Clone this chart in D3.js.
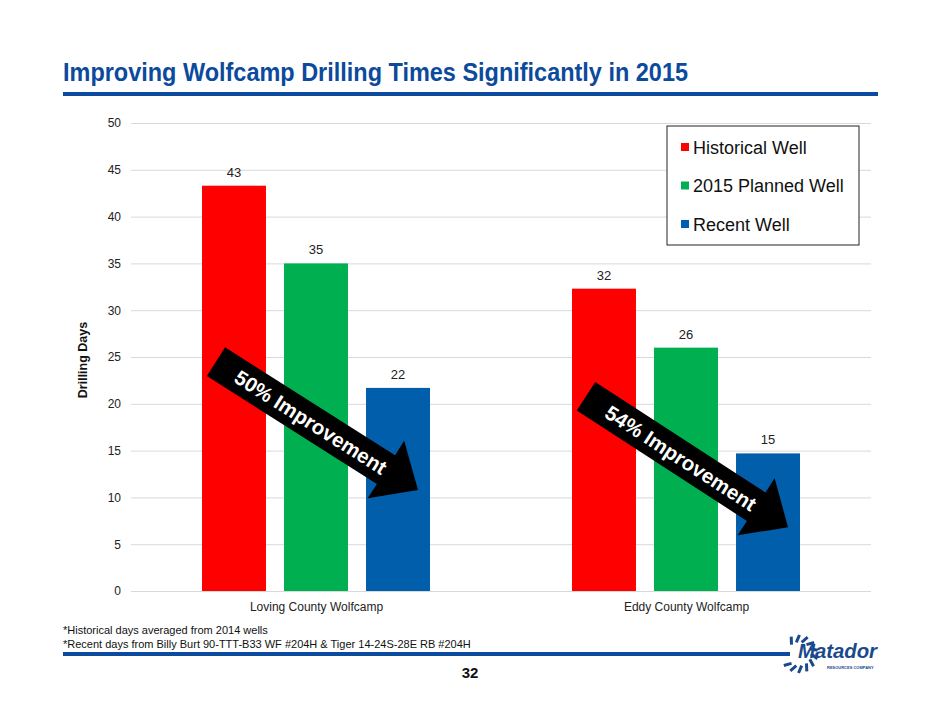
<!DOCTYPE html>
<html>
<head>
<meta charset="utf-8">
<script src="https://cdn.jsdelivr.net/npm/d3@7"></script>
<style>
  body { margin: 0; background: #fff; }
  svg { display: block; font-family: "Liberation Sans", Arial, sans-serif; }
</style>
</head>
<body>
<div id="chart"></div>
<script>
// Data
const categories = ["Loving County Wolfcamp", "Eddy County Wolfcamp"];
const seriesNames = ["Historical Well", "2015 Planned Well", "Recent Well"];
const seriesColors = ["#ff0000", "#00b050", "#005eaa"];
const historical = [43.3, 32.3];
const planned = [35.0, 26.0];
const recent = [21.7, 14.7];
const yTicks = [0, 5, 10, 15, 20, 25, 30, 35, 40, 45, 50];
const footnotes = [
  "*Historical days averaged from 2014 wells",
  "*Recent days from Billy Burt 90-TTT-B33 WF #204H & Tiger 14-24S-28E RB #204H",
];
// arrow annotations, in data units (start value near red bar, end value near blue bar)
const arrowCats = ["Loving County Wolfcamp", "Eddy County Wolfcamp"];
const arrowFrom = [24.5, 20.8];
const arrowTo = [10.8, 6.8];
const arrowText = ["50% Improvement", "54% Improvement"];

const seriesValues = [historical, planned, recent];

//Dimensions
const dimensions = { width: 940, height: 705 };
const plot = { left: 131, right: 871, top: 123, bottom: 591 };

const svg = d3
  .select("#chart")
  .append("svg")
  .attr("width", dimensions.width)
  .attr("height", dimensions.height);

// Title + rule
svg
  .append("text")
  .attr("x", 63)
  .attr("y", 81)
  .attr("font-family", "'Liberation Sans Narrow', 'Liberation Sans', Arial, sans-serif")
  .attr("font-weight", "bold")
  .attr("font-size", 25)
  .attr("fill", "#0b4a9c")
  .attr("textLength", 625)
  .attr("lengthAdjust", "spacingAndGlyphs")
  .text("Improving Wolfcamp Drilling Times Significantly in 2015");

svg
  .append("rect")
  .attr("x", 63)
  .attr("y", 92)
  .attr("width", 815)
  .attr("height", 4)
  .attr("fill", "#0b4a9c");

// Scales
const yScale = d3.scaleLinear().domain([0, 50]).range([plot.bottom, plot.top]);

const x0 = d3
  .scalePoint()
  .domain(categories)
  .range([plot.left, plot.right])
  .padding(0.5);

const groupWidth = 228;
const x1 = d3
  .scaleBand()
  .domain(seriesNames)
  .range([0, groupWidth])
  .paddingInner(0.22);

// Grid + y axis
const yAxis = d3
  .axisLeft(yScale)
  .tickValues(yTicks)
  .tickSize(-(plot.right - plot.left))
  .tickPadding(10);

const yAxisG = svg
  .append("g")
  .attr("transform", `translate(${plot.left}, 0)`)
  .call(yAxis);
yAxisG.select(".domain").remove();
yAxisG.selectAll(".tick line").attr("stroke", "#d9d9d9").attr("stroke-width", 1);
yAxisG
  .selectAll(".tick text")
  .attr("font-size", 12)
  .attr("fill", "#222")
  .attr("font-family", "'Liberation Sans', Arial, sans-serif");

svg
  .append("text")
  .attr("transform", `translate(87, ${(plot.top + plot.bottom) / 2 + 3}) rotate(-90)`)
  .attr("text-anchor", "middle")
  .attr("font-size", 12.5)
  .attr("font-weight", "bold")
  .attr("fill", "#111")
  .text("Drilling Days");

// Bars
seriesNames.forEach((name, si) => {
  const g = svg.append("g");
  const rows = categories.map((c, ci) => ({ cat: c, value: seriesValues[si][ci] }));
  g.selectAll("rect")
    .data(rows)
    .join("rect")
    .attr("x", (d) => x0(d.cat) - groupWidth / 2 + x1(name))
    .attr("y", (d) => yScale(d.value))
    .attr("width", x1.bandwidth())
    .attr("height", (d) => yScale(0) - yScale(d.value))
    .attr("fill", seriesColors[si]);

  g.selectAll("text")
    .data(rows)
    .join("text")
    .attr("x", (d) => x0(d.cat) - groupWidth / 2 + x1(name) + x1.bandwidth() / 2)
    .attr("y", (d) => yScale(d.value) - 9)
    .attr("text-anchor", "middle")
    .attr("font-size", 13)
    .attr("fill", "#222")
    .text((d) => Math.round(d.value));
});

// Category labels
const xAxis = d3.axisBottom(x0).tickSize(0).tickPadding(11);
const xAxisG = svg
  .append("g")
  .attr("transform", `translate(0, ${plot.bottom})`)
  .call(xAxis);
xAxisG.select(".domain").remove();
xAxisG
  .selectAll(".tick text")
  .attr("font-size", 12)
  .attr("fill", "#222")
  .attr("font-family", "'Liberation Sans', Arial, sans-serif");

// Arrows
const angleOf = (a, b) => Math.atan2(b[1] - a[1], b[0] - a[0]);
arrowCats.forEach((cat, i) => {
  const start = [x0(cat) - groupWidth / 2 + x1(seriesNames[0]) + 14, yScale(arrowFrom[i])];
  const end = [x0(cat) - groupWidth / 2 + x1(seriesNames[2]) + 52, yScale(arrowTo[i])];
  const len = Math.hypot(end[0] - start[0], end[1] - start[1]);
  const ang = (angleOf(start, end) * 180) / Math.PI;
  const sw = 17, hw = 34, hl = 38;
  const pts = [
    [0, -sw], [len - hl, -sw], [len - hl, -hw], [len, 0],
    [len - hl, hw], [len - hl, sw], [0, sw],
  ];
  const g = svg
    .append("g")
    .attr("transform", `translate(${start[0]}, ${start[1]}) rotate(${ang})`);
  g.append("path")
    .attr("d", d3.line()(pts) + "Z")
    .attr("fill", "#000");
  g.append("text")
    .attr("x", len * 0.47)
    .attr("y", 7.5)
    .attr("text-anchor", "middle")
    .attr("font-size", 20.5)
    .attr("font-weight", "bold")
    .attr("fill", "#fff")
    .text(arrowText[i]);
});

// Legend
const legend = svg.append("g").attr("transform", "translate(667, 126)");
legend
  .append("rect")
  .attr("width", 192)
  .attr("height", 119)
  .attr("fill", "#fff")
  .attr("stroke", "#222")
  .attr("stroke-width", 1);
seriesNames.forEach((name, i) => {
  const row = legend.append("g").attr("transform", `translate(14, ${21 + i * 38.5})`);
  row.append("rect").attr("x", 0).attr("y", -4).attr("width", 8).attr("height", 8).attr("fill", seriesColors[i]);
  row
    .append("text")
    .attr("x", 12)
    .attr("y", 6.5)
    .attr("font-size", 18)
    .attr("fill", "#111")
    .text(name);
});

// Footnotes
svg
  .selectAll(".footnote")
  .data(footnotes)
  .join("text")
  .attr("class", "footnote")
  .attr("x", 63)
  .attr("y", (d, i) => 634 + i * 14)
  .attr("font-family", "'Liberation Sans Narrow', 'Liberation Sans', Arial, sans-serif")
  .attr("font-size", 11)
  .attr("fill", "#111")
  .text((d) => d);

// Bottom rule
svg
  .append("rect")
  .attr("x", 63)
  .attr("y", 652)
  .attr("width", 727)
  .attr("height", 4)
  .attr("fill", "#0b4a9c");

// Page number
svg
  .append("text")
  .attr("x", 470)
  .attr("y", 678)
  .attr("text-anchor", "middle")
  .attr("font-size", 15)
  .attr("font-weight", "bold")
  .attr("fill", "#111")
  .text("32");

// Logo (gear ring + wordmark)
const logo = svg.append("g").attr("transform", "translate(799, 654)");
d3.range(14).forEach((k) => {
  const a = (k / 14) * 2 * Math.PI;
  if (a > 2.6 && a < 3.6) return;
  logo
    .append("line")
    .attr("x1", Math.cos(a) * 12)
    .attr("y1", Math.sin(a) * 12)
    .attr("x2", Math.cos(a + 0.25) * 19)
    .attr("y2", Math.sin(a + 0.25) * 19)
    .attr("stroke", "#1a4a8c")
    .attr("stroke-width", 3);
});
logo
  .append("text")
  .attr("x", -1)
  .attr("y", 4)
  .attr("font-size", 20)
  .attr("font-weight", "bold")
  .attr("font-style", "italic")
  .attr("fill", "#1a4a8c")
  .attr("textLength", 79)
  .attr("lengthAdjust", "spacingAndGlyphs")
  .text("Matador");
logo
  .append("text")
  .attr("x", 28)
  .attr("y", 15)
  .attr("font-size", 4)
  .attr("font-weight", "bold")
  .attr("fill", "#1a4a8c")
  .text("RESOURCES COMPANY");
</script>
</body>
</html>
